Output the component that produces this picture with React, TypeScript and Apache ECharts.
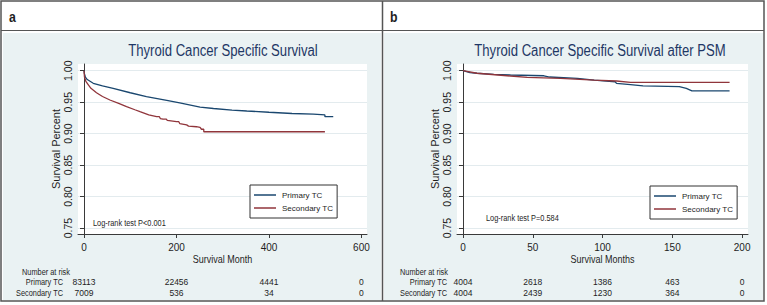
import React, { useEffect, useRef } from "react";
import * as echarts from "echarts";

// ---------- data ----------
const panelLetters = ["a", "b"];
const panelTitles = ["Thyroid Cancer Specific Survival", "Thyroid Cancer Specific Survival after PSM"];
const xAxisNames = ["Survival Month", "Survival Months"];
const yAxisName = "Survival Percent";
const logRankTexts = ["Log-rank test P<0.001", "Log-rank test P=0.584"];
const seriesNames = ["Primary TC", "Secondary TC"];
const riskHeader = "Number at risk";
const xTicksA = [0, 200, 400, 600];
const xTicksB = [0, 50, 100, 150, 200];
const yTicks = [0.75, 0.8, 0.85, 0.9, 0.95, 1.0];
const riskPrimaryA = [83113, 22456, 4441, 0];
const riskSecondaryA = [7009, 536, 34, 0];
const riskPrimaryB = [4004, 2618, 1386, 463, 0];
const riskSecondaryB = [4004, 2439, 1230, 364, 0];

const primaryA: [number, number][] = [
  [0, 1.0], [1, 0.995], [3, 0.99], [7, 0.986], [20, 0.98], [40, 0.976], [63, 0.972],
  [100, 0.965], [135, 0.959], [179, 0.953], [207, 0.949], [251, 0.942], [280, 0.94],
  [320, 0.9375], [352, 0.936], [400, 0.934], [450, 0.932], [496, 0.931], [521, 0.9298],
  [521, 0.927], [539, 0.927],
];
const secondaryA: [number, number][] = [
  [0, 1.0], [1, 0.99], [4, 0.983], [9, 0.978], [15, 0.972], [27, 0.965], [40, 0.959],
  [56, 0.9535], [75, 0.948], [92, 0.943], [110, 0.938], [121, 0.935], [140, 0.93],
  [157, 0.927], [163, 0.927], [165, 0.924], [171, 0.923], [178, 0.923], [180, 0.921],
  [200, 0.919], [205, 0.919], [207, 0.916], [222, 0.914], [226, 0.912], [243, 0.911],
  [251, 0.91], [254, 0.907], [259, 0.907], [259, 0.903], [521, 0.903],
];
const primaryB: [number, number][] = [
  [0, 1.0], [5, 0.997], [10, 0.996], [22, 0.9943], [34, 0.9932], [58, 0.992], [62, 0.99],
  [82, 0.988], [94, 0.985], [109, 0.9825], [110, 0.98], [120, 0.978], [129, 0.976],
  [155, 0.9746], [160, 0.972], [164, 0.968], [191, 0.968],
];
const secondaryB: [number, number][] = [
  [0, 1.0], [10, 0.996], [34, 0.9916], [46, 0.9895], [70, 0.988], [94, 0.985],
  [110, 0.9837], [120, 0.9816], [191, 0.9816],
];

// ---------- styles ----------
const FONT = '"Liberation Sans", Arial, sans-serif';
const SQUEEZE = 0.82;
const BLUE = "#1a476f";
const RED = "#90353b";
const BG = "#eaf2f3";
const GRIDLINE = "#e3ebee";
const AXIS = "#3a3a3a";
const TEXT = "#1e1e1e";
const TITLE = "#1e3765";

export default function App() {
  const ref = useRef<HTMLDivElement>(null);

  useEffect(() => {
    document.body.style.margin = "0";
    if (!ref.current) return;
    const chart = echarts.init(ref.current, undefined, { renderer: "svg" });

    const grids = [
      { left: 78, top: 64, width: 289, height: 170, xMin: -13, xMax: 612, ticks: xTicksA, rp: riskPrimaryA, rs: riskSecondaryA },
      { left: 457, top: 64, width: 291, height: 170, xMin: -4.3, xMax: 204.2, ticks: xTicksB, rp: riskPrimaryB, rs: riskSecondaryB },
    ];

    const xAxis: any[] = [];
    const yAxis: any[] = [];
    grids.forEach((g, i) => {
      xAxis.push({
        type: "value", gridIndex: i, min: g.xMin, max: g.xMax, position: "bottom",
        axisLine: { show: true, lineStyle: { color: AXIS, width: 1 } },
        axisTick: { show: true, customValues: g.ticks, length: 4, lineStyle: { color: AXIS } },
        axisLabel: { customValues: g.ticks, fontSize: 10, fontFamily: FONT, color: TEXT, margin: 8 },
        splitLine: { show: false },
      });
      [g.rp, g.rs].forEach((risk, k) => {
        xAxis.push({
          type: "value", gridIndex: i, min: g.xMin, max: g.xMax, position: "bottom", offset: 43 + k * 11,
          axisLine: { show: false }, axisTick: { show: false }, splitLine: { show: false },
          axisLabel: {
            customValues: g.ticks, margin: 0, fontSize: 8.5, fontFamily: FONT, color: TEXT,
            formatter: (v: number) => String(risk[g.ticks.indexOf(v)]),
          },
        });
      });
      yAxis.push({
        type: "value", gridIndex: i, min: 0.7405, max: 1.0107,
        axisLine: { show: true, lineStyle: { color: AXIS, width: 1 } },
        axisTick: { show: true, customValues: yTicks, length: 4, lineStyle: { color: AXIS } },
        axisLabel: {
          customValues: yTicks, rotate: 90, margin: 5, fontSize: 10.5, fontFamily: FONT, color: TEXT,
          formatter: (v: number) => v.toFixed(2),
        },
        splitLine: { show: true, lineStyle: { color: GRIDLINE, width: 1 } },
        name: yAxisName, nameLocation: "middle", nameRotate: 90, nameGap: 16,
        nameTextStyle: { fontSize: 11, fontFamily: FONT, color: TEXT },
      });
    });

    const mkSeries = (name: string, data: [number, number][], color: string, xi: number, yi: number) => ({
      type: "line", name, data, xAxisIndex: xi, yAxisIndex: yi, symbol: "none",
      lineStyle: { color, width: 1.3 }, itemStyle: { color }, silent: true,
    });

    const series = [
      mkSeries(seriesNames[0], primaryA, BLUE, 0, 0),
      mkSeries(seriesNames[1], secondaryA, RED, 0, 0),
      mkSeries(seriesNames[0], primaryB, BLUE, 3, 1),
      mkSeries(seriesNames[1], secondaryB, RED, 3, 1),
    ];

    const legendBase = {
      orient: "vertical", data: seriesNames, icon: "rect", itemWidth: 22, itemHeight: 1.5, itemGap: 5,
      padding: [6, 4, 6, 4], borderColor: "#333", borderWidth: 1, backgroundColor: "#fff",
      borderRadius: 0, selectedMode: false,
      textStyle: { fontSize: 8, fontFamily: FONT, color: TEXT, padding: [0, 0, 0, 1] },
    };

    const txt = (text: string, x: number, y: number, size: number, opts: any = {}) => ({
      type: "text", x, y, z: 10, scaleX: SQUEEZE,
      style: {
        text, x: 0, y: 0, fontSize: size, fontFamily: FONT, fill: opts.fill || TEXT,
        align: opts.align || "left", verticalAlign: "middle", fontWeight: opts.bold ? "bold" : "normal",
      },
    });

    const graphic: any[] = [
      { type: "rect", z: -10, shape: { x: 3, y: 33, width: 378, height: 267 }, style: { fill: BG } },
      { type: "rect", z: -10, shape: { x: 384, y: 33, width: 379, height: 267 }, style: { fill: BG } },
      { type: "rect", z: 20, shape: { x: 1, y: 1, width: 763, height: 300 }, style: { fill: "none", stroke: "#555", lineWidth: 1.5 } },
      { type: "line", z: 20, shape: { x1: 382.5, y1: 1, x2: 382.5, y2: 301 }, style: { stroke: "#555", lineWidth: 1.5 } },
      { type: "line", z: 20, shape: { x1: 1, y1: 30.5, x2: 764, y2: 30.5 }, style: { stroke: "#555", lineWidth: 1.2 } },
      txt(panelLetters[0], 9, 17, 15, { bold: true }),
      txt(panelLetters[1], 390, 17, 15, { bold: true }),
      txt(panelTitles[0], 223, 51, 16, { align: "center", fill: TITLE }),
      txt(panelTitles[1], 600, 51, 16, { align: "center", fill: TITLE }),
      txt(xAxisNames[0], 222.5, 259.5, 11, { align: "center" }),
      txt(xAxisNames[1], 602.5, 259.5, 11, { align: "center" }),
      txt(logRankTexts[0], 93, 223, 9),
      txt(logRankTexts[1], 486, 218, 9),
      txt(riskHeader, 22, 272, 9),
      txt(seriesNames[0], 63, 282, 9, { align: "right" }),
      txt(seriesNames[1], 63, 293, 9, { align: "right" }),
      txt(riskHeader, 400, 272, 9),
      txt(seriesNames[0], 447, 282, 9, { align: "right" }),
      txt(seriesNames[1], 447, 293, 9, { align: "right" }),
    ];

    chart.setOption({
      animation: false,
      grid: grids.map((g) => ({
        left: g.left, top: g.top, width: g.width, height: g.height,
        show: true, backgroundColor: "#fff", borderWidth: 0, containLabel: false,
      })),
      xAxis, yAxis, series,
      legend: [
        { ...legendBase, left: 250, top: 185 },
        { ...legendBase, left: 650, top: 186 },
      ],
      graphic,
    });

    return () => chart.dispose();
  }, []);

  return <div ref={ref} style={{ width: 767, height: 305 }} />;
}
